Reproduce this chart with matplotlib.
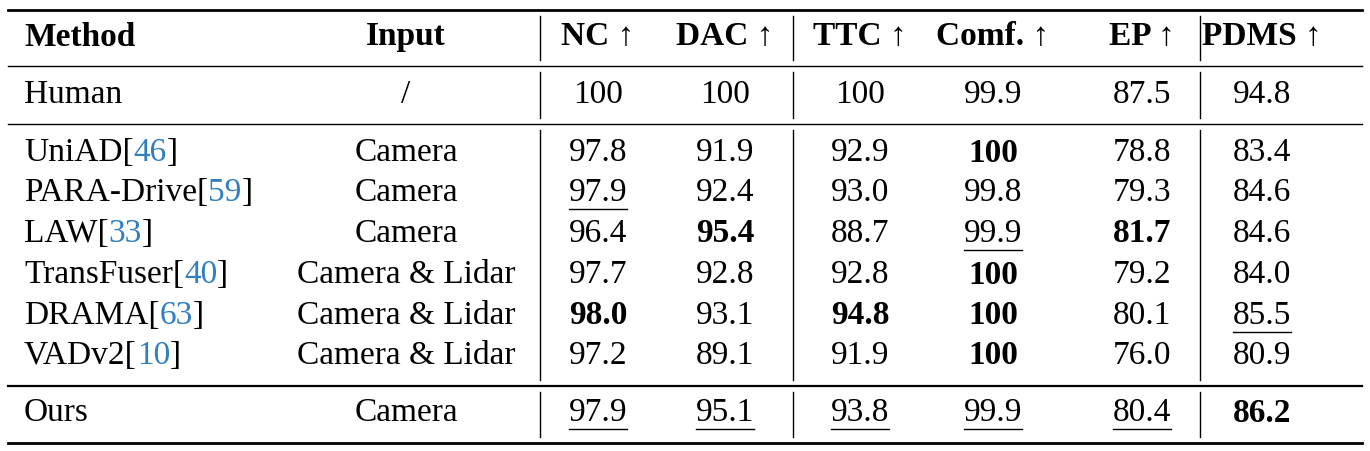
import matplotlib
matplotlib.use("Agg")
import matplotlib.pyplot as plt

methods = ["UniAD", "PARA-Drive", "LAW", "TransFuser", "DRAMA", "VADv2"]
cites = ["46", "59", "33", "40", "63", "10"]
inputs = ["Camera", "Camera", "Camera", "Camera & Lidar", "Camera & Lidar", "Camera & Lidar"]
headers = ["NC ↑", "DAC ↑", "TTC ↑", "Comf. ↑", "EP ↑", "PDMS ↑"]
human = ["100", "100", "100", "99.9", "87.5", "94.8"]
nc = ["97.8", "97.9", "96.4", "97.7", "98.0", "97.2"]
dac = ["91.9", "92.4", "95.4", "92.8", "93.1", "89.1"]
ttc = ["92.9", "93.0", "88.7", "92.8", "94.8", "91.9"]
comf = ["100", "99.8", "99.9", "100", "100", "100"]
ep = ["78.8", "79.3", "81.7", "79.2", "80.1", "76.0"]
pdms = ["83.4", "84.6", "84.6", "84.0", "85.5", "80.9"]
ours = ["97.9", "95.1", "93.8", "99.9", "80.4", "86.2"]
# style flags: 'b' bold, 'u' underline, '' plain
style = [
    ["", "", "", "b", "", ""],
    ["u", "", "", "", "", ""],
    ["", "b", "", "u", "b", ""],
    ["", "", "", "b", "", ""],
    ["b", "", "b", "b", "", "u"],
    ["", "", "", "b", "", ""],
]
ours_style = ["u", "u", "u", "u", "u", "b"]

W, H = 1370, 451
fig = plt.figure(figsize=(13.7, 4.51), dpi=100)
ax = fig.add_axes([0, 0, 1, 1])
ax.set_xlim(0, W); ax.set_ylim(H, 0); ax.axis("off")
FONT = "Liberation Serif"
FS = 24
BLUE = "#2f7fc1"
fig.canvas.draw()
r = fig.canvas.get_renderer()

def width(t, **kw):
    tx = ax.text(0, 0, t, fontsize=FS, family=FONT, **kw)
    bb = tx.get_window_extent(renderer=r)
    tx.remove()
    return bb.width

def put(x, y, t, st="", ha="center"):
    kw = dict(fontweight="bold") if st == "b" else {}
    ax.text(x, y, t, fontsize=FS, family=FONT, ha=ha, va="center", **kw)
    if st == "u":
        w = width(t)
        ax.plot([x - w/2, x + w/2], [y + 16, y + 16], color="black", lw=1)

col_x = [598, 725, 860, 993, 1142, 1262]
inp_x = 406
rows_y = [153, 193, 234, 275, 316, 356]

# header
ax.text(24, 37, "Method", fontsize=FS, family=FONT, fontweight="bold", va="center")
ax.text(inp_x, 37, "Input", fontsize=FS, family=FONT, fontweight="bold", va="center", ha="center")
for x, h in zip(col_x, headers):
    ax.text(x, 37, h, fontsize=FS, family=[FONT, "DejaVu Sans"], fontweight="bold", va="center", ha="center")

# human
ax.text(24, 95, "Human", fontsize=FS, family=FONT, va="center")
put(inp_x, 95, "/")
for x, v in zip(col_x, human):
    put(x, 95, v)

cols = [nc, dac, ttc, comf, ep, pdms]
for i, (m, c, inp, y) in enumerate(zip(methods, cites, inputs, rows_y)):
    x0 = 24
    ax.text(x0, y, m + "[", fontsize=FS, family=FONT, va="center")
    x0 += width(m + "[")
    ax.text(x0, y, c, fontsize=FS, family=FONT, va="center", color=BLUE)
    x0 += width(c)
    ax.text(x0, y, "]", fontsize=FS, family=FONT, va="center")
    put(inp_x, y, inp)
    for j, x in enumerate(col_x):
        put(x, y, cols[j][i], style[i][j])

ax.text(24, 413, "Ours", fontsize=FS, family=FONT, va="center")
put(inp_x, 413, "Camera")
for j, x in enumerate(col_x):
    put(x, 413, ours[j], ours_style[j])

# rules
for y, lw in [(10, 2), (66, 1), (124, 1), (386, 1.6), (443, 2)]:
    ax.plot([8, 1362], [y, y], color="black", lw=lw)
# vertical separators by section
sections = [(16, 60), (72, 118), (130, 380), (392, 437)]
for vx in [540, 793, 1200]:
    for a, b in sections:
        ax.plot([vx, vx], [a, b], color="black", lw=1)

fig.savefig("out.png", dpi=100)
